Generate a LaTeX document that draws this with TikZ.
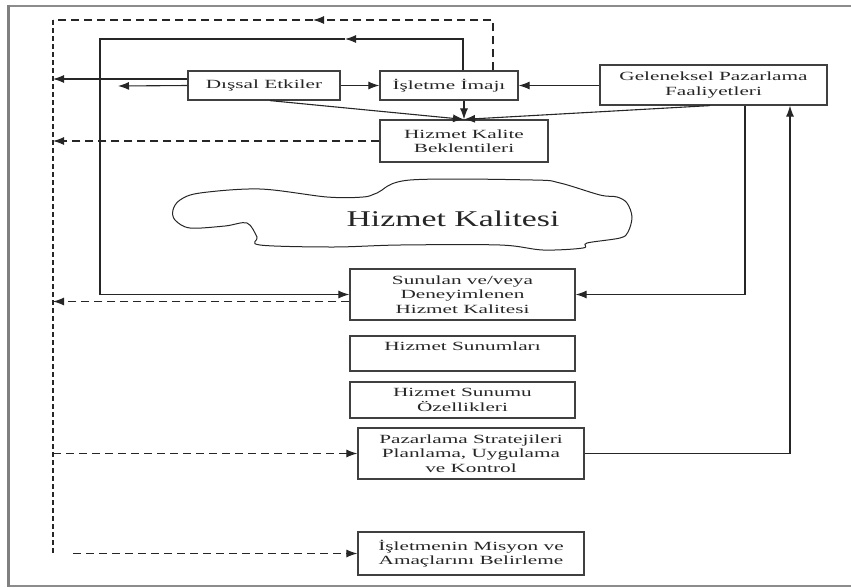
\documentclass[tikz,border=0pt]{standalone}
\usepackage{fontspec}
\setmainfont{Liberation Serif}
\newfontfamily\kutufont{Liberation Serif}[FakeStretch=1.7]
\newfontfamily\bulutfont{Liberation Serif}[FakeStretch=1.5]
\usetikzlibrary{arrows.meta}
\begin{document}
\begin{tikzpicture}[x=1pt,y=-1pt,
  kutu/.style={draw=black!75, line width=1.2pt, inner sep=0pt, align=center,
    font=\kutufont\fontsize{12.5}{14.5}\selectfont, text=black!85},
  ok/.style={-{Latex[length=11pt,width=8pt]}, line width=1.1pt, draw=black!85},
  kesik/.style={dash pattern=on 8pt off 5pt, line width=1.1pt, draw=black!85},
  kesikdik/.style={dash pattern=on 5pt off 3pt, line width=1.1pt, draw=black!85}]
  \useasboundingbox (0,0) rectangle (851,587);
  % cerceve
  \draw[black!45, line width=1.2pt] (851,6) -- (8,6) (8,586) -- (851,586);
  \draw[black!50, line width=3pt] (8,5.4) -- (8,586.6);

  \node[kutu, minimum width=152pt, minimum height=29pt] (dis) at (264,85.5) {Dışsal Etkiler};
  \node[kutu, minimum width=138pt, minimum height=29pt] (imaj) at (449,85.5) {İşletme İmajı};
  \node[kutu, minimum width=227pt, minimum height=40pt] (gel) at (713.5,85) {Geleneksel Pazarlama\\Faaliyetleri};
  \node[kutu, minimum width=168pt, minimum height=42pt] (bek) at (464,141) {Hizmet Kalite\\Beklentileri};
  \node[kutu, minimum width=225pt, minimum height=51pt] (sun) at (462.5,294.5) {Sunulan ve/veya\\Deneyimlenen\\Hizmet Kalitesi};
  \node[kutu, minimum width=225pt, minimum height=35pt] (sunm) at (462.5,353.5) {Hizmet Sunumları\\\mbox{}};
  \node[kutu, minimum width=225pt, minimum height=36pt] (ozel) at (462.5,400) {Hizmet Sunumu\\Özellikleri};
  \node[kutu, minimum width=226pt, minimum height=51pt] (paz) at (471,453.5) {Pazarlama Stratejileri\\Planlama, Uygulama\\ve Kontrol};
  \node[kutu, minimum width=226pt, minimum height=43pt] (mis) at (471,553.5) {İşletmenin Misyon ve\\Amaçlarını Belirleme};

  % bulut
  \draw[line width=1pt, black!85] plot[smooth cycle, tension=0.55] coordinates {
    (180,200) (200,193) (260,189) (327,197) (363,197) (377,193) (410,180)
    (533,180) (560,183) (600,195) (617,197) (627,203) (632,217) (628,232)
    (620,238) (587,243) (583,248) (543,250) (500,245) (400,245) (333,247)
    (260,245) (257,237) (247,223) (225,226) (190,228) (175,220) (173,210)};
  \node[font=\bulutfont\fontsize{22.5}{27}\selectfont, text=black!85] (bulut) at (453,219) {Hizmet Kalitesi};

  \coordinate (dk) at (493,20);
  \coordinate (dok) at (313,20);
  \coordinate (dsol) at (53,20);
  \coordinate (dalt) at (53,553);
  \coordinate (ik) at (463,39);
  \coordinate (iok) at (345,39);
  \coordinate (isol) at (100,39);
  \coordinate (kisa) at (118,86);
  \coordinate (misbas) at (73,553.5);

  % kesikli geri besleme
  \draw[kesik, -{Latex[length=11pt,width=8pt]}] (imaj.north -| dk) |- (dok);
  \draw[kesik] (dok) -- (dsol);
  \draw[kesikdik] (dsol) -- (dalt);
  % duz geri besleme
  \draw[ok] (imaj.north -| ik) |- (iok);
  \draw[ok] (iok) -- (isol) |- (sun.west);

  \draw[ok] ([yshift=6.5pt]dis.west) -- ([yshift=6.5pt]dis.west -| dsol);
  \draw[ok] (dis.west) -- (kisa);
  \draw[ok] (dis) -- (imaj);
  \draw[ok] (gel.west |- imaj) -- (imaj.east);
  \draw[ok] (imaj.south -| bek.north) -- (bek.north);
  \draw[ok] ([xshift=6pt]dis.south) -- (bek.north);
  \draw[ok] ([xshift=-3.5pt]gel.south) -- (bek.north);
  \draw[kesik, ok] (bek.west) -- (bek.west -| dsol);
  \draw[kesik, ok] ([yshift=-7pt]sun.west) -- ([yshift=-7pt]sun.west -| dsol);
  \draw[ok] ([xshift=31.5pt]gel.south) |- (sun.east);
  \draw[ok] (paz.east) -| ([xshift=76.5pt]gel.south);
  \draw[kesik, ok] (paz.west -| dsol) -- (paz.west);
  \draw[kesik, ok] (misbas) -- (mis.west);
\end{tikzpicture}
\end{document}
